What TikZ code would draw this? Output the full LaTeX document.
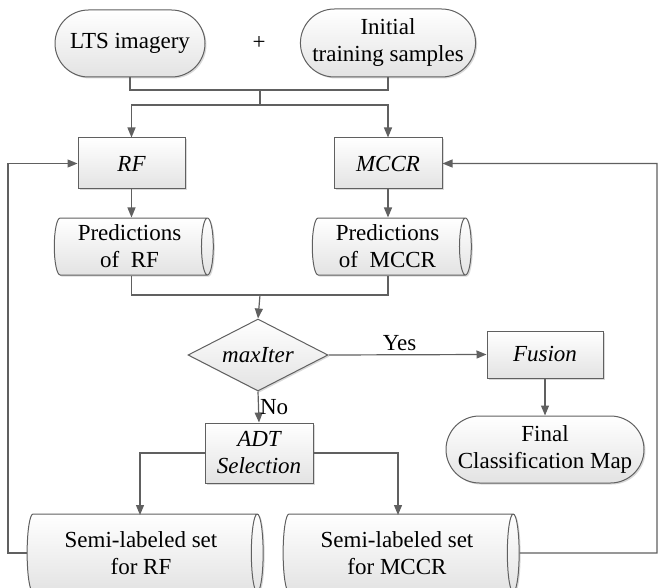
\documentclass[tikz,border=0pt]{standalone}
\usepackage{fontspec}
\setmainfont{Liberation Serif}
\usetikzlibrary{shapes.geometric,shapes.misc,arrows.meta,shadows}
\definecolor{linegray}{HTML}{606060}
\newcommand{\chartfont}{\fontsize{23}{27}\selectfont}
\tikzstyle{box}=[draw=linegray, line width=1pt, top color=white, bottom color=black!11, drop shadow={shadow xshift=1.5pt, shadow yshift=-1.5pt, fill=black!25, opacity=.6}, align=center, inner sep=2pt]
\tikzstyle{terminal}=[box, rounded rectangle]
\tikzstyle{process}=[box, rectangle, font=\chartfont\itshape]
\tikzstyle{store}=[box, cylinder, shape border rotate=0, aspect=0.25]
\tikzstyle{decision}=[box, diamond, font=\chartfont\itshape, inner sep=0pt]
\tikzstyle{flow}=[draw=linegray, line width=1.2pt, -{Triangle[length=10pt,width=8pt]}]
\tikzstyle{wire}=[draw=linegray, line width=1.2pt]

\begin{document}
\begin{tikzpicture}[x=1pt, y=-1pt, font=\chartfont]
\useasboundingbox (0,0) rectangle (658,588);
\draw (130,43.5) node[terminal, minimum width=154pt, minimum height=67pt] (lts) {LTS imagery};
\draw (259,43) node (plus) {+};
\draw (388,43) node[terminal, minimum width=175pt, minimum height=68pt] (init) {Initial\\training samples};
\draw (131.5,163.5) node[process, minimum width=107pt, minimum height=51pt] (rf) {RF};
\draw (388,163.5) node[process, minimum width=108pt, minimum height=51pt] (mccr) {MCCR};
\draw (129.5,246.5) node[store, minimum width=57pt, minimum height=159pt] (predrf) {Predictions\\of\ \ RF};
\draw (387.5,246.5) node[store, minimum width=57pt, minimum height=159pt] (predmccr) {Predictions\\of\ \ MCCR};
\draw (258,355) node[decision, minimum width=140pt, minimum height=72pt, aspect=1.94] (maxiter) {maxIter};
\draw (545,354.5) node[process, minimum width=116pt, minimum height=47pt] (fusion) {Fusion};
\draw (545,449.5) node[terminal, minimum width=202pt, minimum height=67pt] (final) {Final\\Classification Map};
\draw (259,453) node[process, minimum width=108pt, minimum height=60pt] (adt) {ADT\\Selection};
\draw (141,553) node[store, minimum width=78pt, minimum height=236pt] (semirf) {Semi-labeled set\\for RF};
\draw (397,553) node[store, minimum width=78pt, minimum height=236pt] (semimccr) {Semi-labeled set\\for MCCR};

% inputs merge and split
\coordinate (join) at (260,90);
\coordinate (split) at (260,105);
\draw[wire] (lts.south) |- (join) -| (init.south);
\draw[wire] (join) -- (split);
\draw[flow] (split) -| (rf.north);
\draw[flow] (split) -| (mccr.north);
\draw[flow] (rf.south) -- (rf.south |- predrf.north);
\draw[flow] (mccr.south) -- (mccr.south |- predmccr.north);

% predictions to the check
\coordinate (join2) at (260,295);
\draw[wire] (rf.south |- predrf.south) |- (join2) -| (mccr.south |- predmccr.south);
\draw[flow] (join2) -- (maxiter.north);
\draw[flow] (maxiter.east) -- node[above, pos=0.45] {Yes} (fusion.west);
\draw[flow] (fusion.south) -- (final.north);
\draw[flow] (maxiter.south) -- node[right, inner sep=1pt] {No} (adt.north);
\draw[flow] (adt.west) -| (140,515);
\draw[flow] (adt.east) -| (398,515);

% feedback loops
\draw[flow] (semirf.west) -| (8,553) |- (rf.west);
\draw[flow] (semimccr.east) -- (657,553) |- (mccr.east);
\end{tikzpicture}
\end{document}
